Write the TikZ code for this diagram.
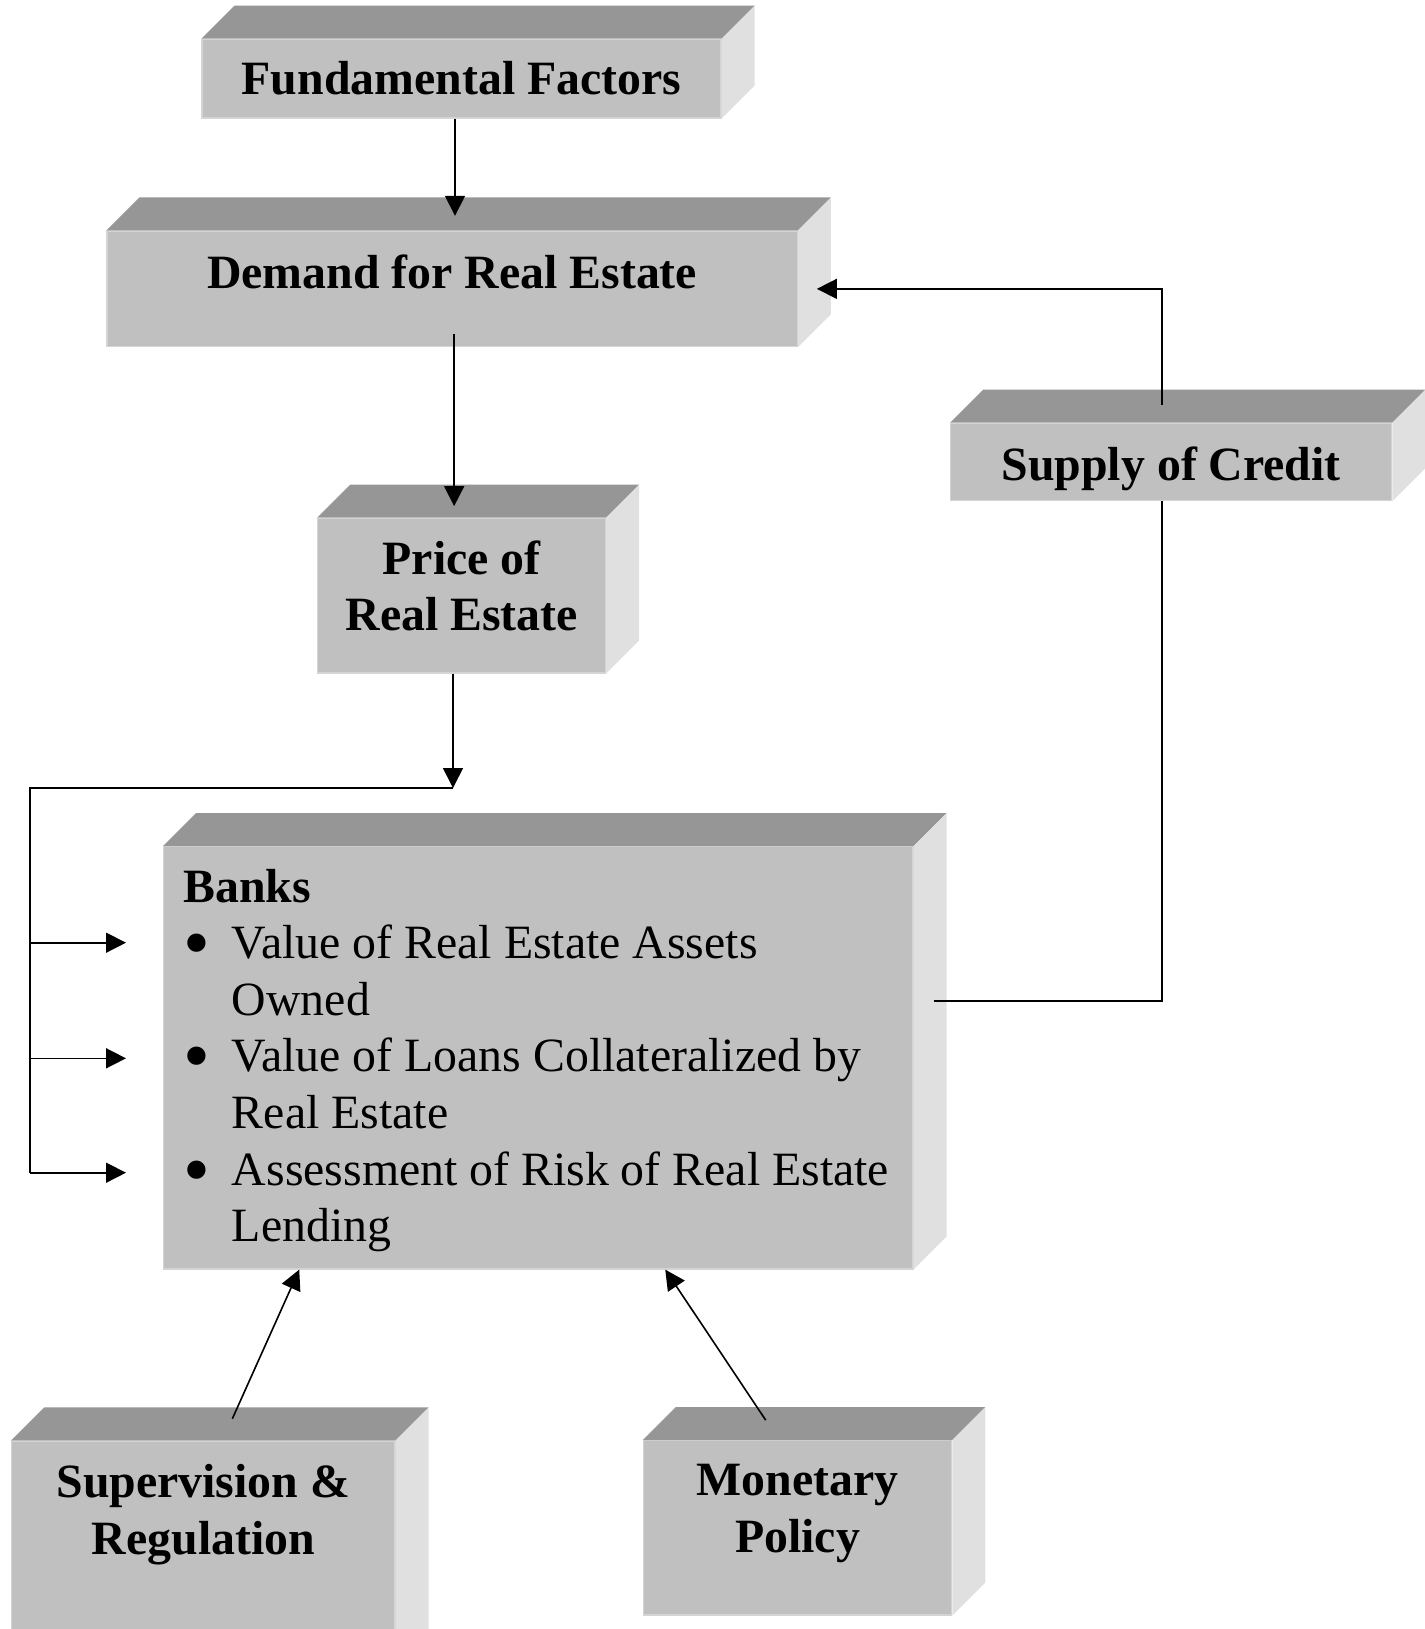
\documentclass[tikz,border=0pt]{standalone}
\usepackage{fontspec}
\setmainfont{Liberation Serif}
\usepackage{graphicx}
\usepackage{tikz}
\usetikzlibrary{positioning,arrows.meta,fit,calc}
\definecolor{front}{RGB}{192,192,192}
\definecolor{lid}{RGB}{150,150,150}
\definecolor{flank}{RGB}{224,224,224}
\definecolor{rim}{RGB}{212,212,212}
\newcommand{\dotitem}{\makebox[24.3pt][l]{\raisebox{-5pt}{\scalebox{1.6}{\textbullet}}}}

\begin{document}
\begin{tikzpicture}[x=0.5pt,y=-0.5pt,
  block/.style={fill=front,draw=rim,line width=0.6pt,inner sep=0pt},
  title/.style={inner sep=0pt,align=center,font=\bfseries\fontsize{23.9}{28.3}\selectfont},
  itemtext/.style={inner sep=0pt,align=left,font=\fontsize{23.9}{28.3}\selectfont},
  link/.style={draw=black,line width=0.8pt},
  arr/.style={link,-{Triangle[length=10pt,width=10pt]}}]
\clip (0,0) rectangle (1425,1629);
\node[block,fit={(202,39.3) (721,118)}] (ff) {};
\node[block,fit={(107,231) (797.3,346.7)}] (dem) {};
\node[block,fit={(317.8,518.3) (605.5,673)}] (price) {};
\node[block,fit={(950.7,423.3) (1391.7,500.7)}] (credit) {};
\node[block,fit={(163.5,846.7) (913,1269)}] (banks) {};
\node[block,fit={(11.7,1441) (395,1700)}] (sup) {};
\node[block,fit={(643.3,1440.7) (951.7,1615)}] (mon) {};
\foreach \n in {ff,dem,price,credit,banks,sup,mon}{
  \fill[lid] (\n.north west) -- ++(33,-33) -- ([shift={(33,-33)}]\n.north east) -- (\n.north east) -- cycle;
  \fill[flank] (\n.north east) -- ++(33,-33) -- ([shift={(33,-33)}]\n.south east) -- (\n.south east) -- cycle;
}
\node[title] (fftxt) at (ff.center) {Fundamental Factors};
\node[title] (demtxt) at ([yshift=8.3pt]dem.center) {Demand for Real Estate};
\node[title] (pricetxt) at ([yshift=4.8pt]price.center) {Price of\\Real Estate};
\node[title] (credittxt) at ([yshift=-3.2pt]credit.center) {Supply of Credit};
\node[itemtext,anchor=west] (bankstxt) at ([xshift=10pt,yshift=-1.3pt]banks.west)
  {\textbf{Banks}\\
   \dotitem Value of Real Estate Assets\\
   \hspace*{24.3pt}Owned\\
   \dotitem Value of Loans Collateralized by\\
   \hspace*{24.3pt}Real Estate\\
   \dotitem Assessment of Risk of Real Estate\\
   \hspace*{24.3pt}Lending};
\node[title] (suptxt) at ([yshift=28pt]sup.center) {Supervision \&\\Regulation};
\node[title] (montxt) at ([yshift=7.3pt]mon.center) {Monetary\\Policy};
\coordinate (split) at (453,788);
\coordinate (rail) at (30,788);
\coordinate (in1) at (126,942.7);
\coordinate (in2) at (126,1058.3);
\coordinate (in3) at (126,1172.7);
\draw[arr] ($(ff.south)+(-6.5,0)$) -- ($(dem.north -| ff.south)+(-6.5,-14.6)$);
\draw[arr] ($(dem.south)+(2,-13.4)$) -- ($(price.north -| dem.south)+(2,-11.6)$);
\draw[arr] (price.south -| split) -- (split);
\draw[link] (split) -- (rail) -- (rail |- in3);
\foreach \i in {1,2,3} \draw[arr] (rail |- in\i) -- (in\i);
\draw[link] ($(banks.east)+(20,-57)$) -| ($(credit.south)+(-9.5,0)$);
\draw[arr] ($(credit.north)+(-9.5,-18)$) |- ($(dem.east)+(19,0)$);
\draw[arr] ($(sup.north)+(29,-21.7)$) -- ($(banks.south)+(-239,0)$);
\draw[arr] ($(mon.north)+(-31.8,-20)$) -- ($(banks.south)+(127,0)$);
\end{tikzpicture}
\end{document}
